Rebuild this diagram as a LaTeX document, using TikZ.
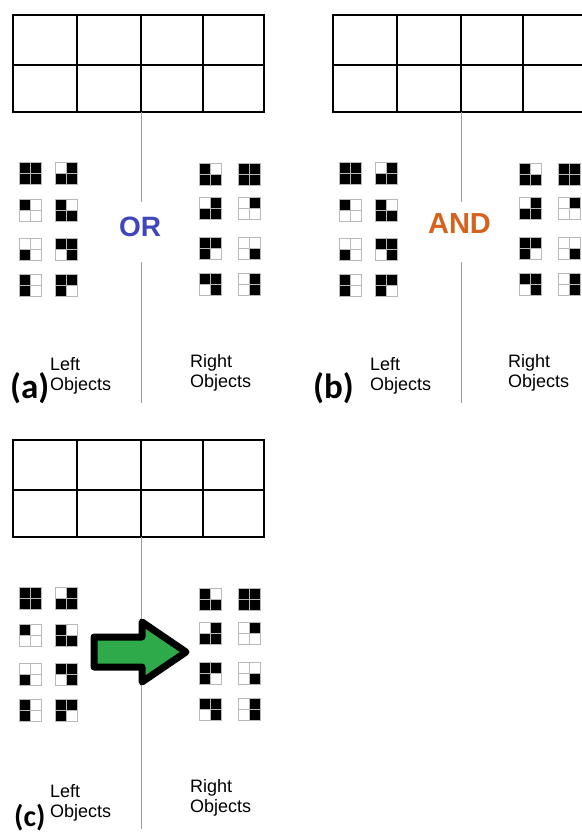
\documentclass[tikz,border=0pt]{standalone}
\usepackage{fontspec}
\setmainfont{Liberation Sans}
\newfontfamily\carlito{Carlito}
\definecolor{bleuou}{RGB}{64,70,190}
\definecolor{orangeet}{RGB}{214,98,30}
\definecolor{vertfleche}{RGB}{46,170,74}

%une icone 2x2 : haut gauche, haut droite, bas gauche, bas droite
\newcommand{\icone}[6]{%
	\begin{scope}[shift={(#1,#2)}]
	\filldraw[case,fill=#3] (-11,-11) rectangle (0,0);
	\filldraw[case,fill=#4] (0,-11) rectangle (11,0);
	\filldraw[case,fill=#5] (-11,0) rectangle (0,11);
	\filldraw[case,fill=#6] (0,0) rectangle (11,11);
	\end{scope}}

%un panneau : grille et objets
\newcommand{\panneau}[3]{%
	\begin{scope}[shift={(#2,#3)}]
	%la grille
	\draw[grille] (13,15) rectangle (264,112);
	\draw[grille] (13,65) -- (264,65);
	\draw[grille] (77,15) -- (77,112);
	\draw[grille] (141,15) -- (141,112);
	\draw[grille] (203,15) -- (203,112);
	\coordinate (#1-haut) at (141,112);
	%objets de gauche
	\icone{30}{173}{black}{black}{black}{black}
	\icone{30}{210}{black}{white}{white}{white}
	\icone{30}{249}{white}{white}{black}{white}
	\icone{30}{285.5}{black}{white}{black}{white}
	\icone{66.5}{173}{white}{black}{black}{black}
	\icone{66.5}{210}{black}{white}{black}{black}
	\icone{66.5}{249}{black}{black}{white}{black}
	\icone{66.5}{285.5}{black}{black}{black}{white}
	%objets de droite
	\icone{210.5}{174.5}{black}{white}{black}{black}
	\icone{210.5}{208.5}{white}{black}{black}{black}
	\icone{210.5}{248}{black}{black}{black}{white}
	\icone{210.5}{284}{black}{black}{white}{black}
	\icone{249.5}{174.5}{black}{black}{black}{black}
	\icone{249.5}{208.5}{white}{black}{white}{white}
	\icone{249.5}{248}{white}{white}{white}{black}
	\icone{249.5}{284}{white}{black}{white}{black}
	\end{scope}}

\begin{document}
\begin{tikzpicture}[x=1pt, y=-1pt,
	grille/.style={draw=black, line width=2pt},
	case/.style={draw=gray!55, line width=0.7pt},
	separation/.style={draw=gray!75, line width=0.9pt},
	etiq/.style={font=\fontsize{18}{20}\selectfont, align=left, inner sep=0pt},
	lettre/.style={font=\carlito\bfseries\fontsize{35}{35}\selectfont, inner sep=0pt},
	fleche/.style={draw=black, fill=vertfleche, line width=7pt, line join=round}]
	\useasboundingbox (0,0) rectangle (581,834);
	%les trois panneaux
	\panneau{a}{0}{0}
	\panneau{b}{320}{0}
	\panneau{c}{0}{425}
	%panneau (a)
	\node[font=\bfseries\fontsize{28}{28}\selectfont, text=bleuou, inner sep=0pt] (ou) at (140,227) {OR};
	\coordinate (a-h1) at (141,202);
	\coordinate (a-h2) at (141,262);
	\coordinate (a-bas) at (141,403);
	\draw[separation] (a-haut) -- (a-h1);
	\draw[separation] (a-h2) -- (a-bas);
	\node[etiq, anchor=north west] (a-gauche) at (50,357) {Left\\Objects};
	\node[etiq, anchor=north west] (a-droite) at (190,354) {Right\\Objects};
	\node[lettre, anchor=base west] (a-lettre) at (10,398) {(a)};
	%panneau (b)
	\node[font=\bfseries\fontsize{29}{29}\selectfont, text=orangeet, inner sep=0pt] (et) at (459.5,224) {AND};
	\coordinate (b-h1) at (461,202);
	\coordinate (b-h2) at (461,262);
	\coordinate (b-bas) at (461,403);
	\draw[separation] (b-haut) -- (b-h1);
	\draw[separation] (b-h2) -- (b-bas);
	\node[etiq, anchor=north west] (b-gauche) at (370,357) {Left\\Objects};
	\node[etiq, anchor=north west] (b-droite) at (508,354) {Right\\Objects};
	\node[lettre, anchor=base west] (b-lettre) at (313,398) {(b)};
	%panneau (c)
	\coordinate (c-bas) at (141,829);
	\draw[separation] (c-haut) -- (c-bas);
	\filldraw[fleche] (94,637) -- (142,637) -- (142,622) -- (186,652) -- (142,682) -- (142,667) -- (94,667) -- cycle;
	\node[etiq, anchor=north west] (c-gauche) at (50,784) {Left\\Objects};
	\node[etiq, anchor=north west] (c-droite) at (190,779) {Right\\Objects};
	\node[lettre, font=\carlito\bfseries\fontsize{30}{30}\selectfont, anchor=base west] (c-lettre) at (14,826) {(c)};
\end{tikzpicture}
\end{document}
